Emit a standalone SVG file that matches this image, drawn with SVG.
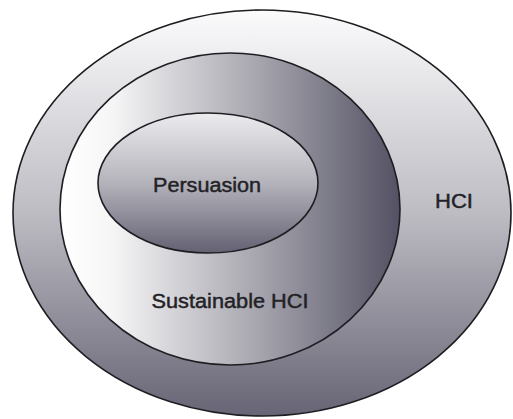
<svg xmlns="http://www.w3.org/2000/svg" width="513" height="419" viewBox="0 0 513 419">
<defs>
<linearGradient id="gOuter" x1="0" y1="0" x2="0" y2="1">
<stop offset="0" stop-color="#fbfbfc"/>
<stop offset="0.5" stop-color="#bdbcc3"/>
<stop offset="1" stop-color="#676575"/>
</linearGradient>
<linearGradient id="gMid" x1="0" y1="0" x2="1" y2="0">
<stop offset="0" stop-color="#ffffff"/>
<stop offset="0.15" stop-color="#f6f6f7"/>
<stop offset="0.6" stop-color="#a3a2ab"/>
<stop offset="1" stop-color="#535163"/>
</linearGradient>
<linearGradient id="gInner" x1="0" y1="0" x2="0" y2="1">
<stop offset="0" stop-color="#ececef"/>
<stop offset="0.5" stop-color="#b4b3bb"/>
<stop offset="1" stop-color="#636172"/>
</linearGradient>
</defs>
<style>
.sh{stroke:#1e1e22;stroke-width:1.6}
.t{font-family:"Liberation Sans",Arial,sans-serif;fill:#222226;stroke:#222226;stroke-width:0.45;font-size:20px}
</style>
<rect width="513" height="419" fill="#ffffff"/>
<g id="hci">
<ellipse class="sh" cx="262" cy="213" rx="249" ry="203" fill="url(#gOuter)"/>
<text class="t" x="454" y="208" text-anchor="middle" textLength="38" lengthAdjust="spacingAndGlyphs">HCI</text>
</g>
<g id="sustainable">
<ellipse class="sh" cx="230" cy="209" rx="170" ry="156" fill="url(#gMid)"/>
<text class="t" x="230" y="308" text-anchor="middle" textLength="157" lengthAdjust="spacingAndGlyphs">Sustainable HCI</text>
</g>
<g id="persuasion">
<ellipse class="sh" cx="208" cy="183" rx="110" ry="70" fill="url(#gInner)"/>
<text class="t" x="207" y="192" text-anchor="middle" textLength="108" lengthAdjust="spacingAndGlyphs">Persuasion</text>
</g>
<g id="connectors"/>
</svg>
